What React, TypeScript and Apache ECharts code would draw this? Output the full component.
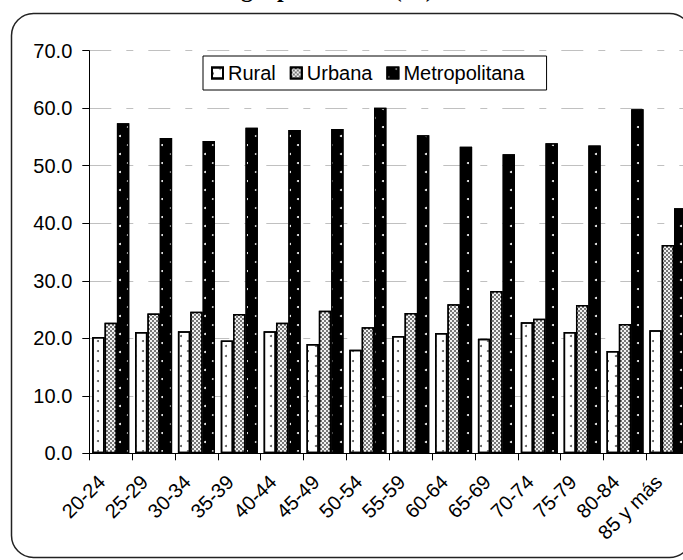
import React, { useEffect, useRef } from "react";
import * as echarts from "echarts";

const categories = [
  "20-24", "25-29", "30-34", "35-39", "40-44", "45-49", "50-54",
  "55-59", "60-64", "65-69", "70-74", "75-79", "80-84", "85 y más",
];
const seriesNames = ["Rural", "Urbana", "Metropolitana"];
const rural = [20.2, 21.1, 21.2, 19.6, 21.2, 19.0, 18.0, 20.4, 20.9, 19.9, 22.8, 21.1, 17.8, 21.4];
const urbana = [22.7, 24.3, 24.6, 24.2, 22.7, 24.8, 21.9, 24.4, 25.9, 28.2, 23.4, 25.8, 22.5, 36.2];
const metropolitana = [57.4, 54.8, 54.3, 56.6, 56.2, 56.4, 60.1, 55.3, 53.3, 52.0, 53.9, 53.5, 59.8, 42.6];
const yMin = 0;
const yMax = 70;
const yStep = 10;
const titleText = "grupo de edad (%)";

const SANS = '"Liberation Sans", Arial, sans-serif';
const SERIF = '"Liberation Serif", "Times New Roman", serif';

export default function App() {
  const ref = useRef<HTMLDivElement>(null);
  useEffect(() => {
    const chart = echarts.init(ref.current as HTMLDivElement, null, { renderer: "svg" });
    const border = { borderColor: "#000", borderWidth: 1.5 };
    chart.setOption({
      animation: false,
      backgroundColor: "#fff",
      textStyle: { fontFamily: SANS },
      graphic: [
        {
          type: "text",
          x: 241,
          y: 1,
          silent: true,
          style: {
            text: titleText,
            font: `bold 24px ${SERIF}`,
            fill: "#000",
            verticalAlign: "bottom",
          },
        },
        {
          type: "rect",
          silent: true,
          z: 100,
          shape: { x: 11.5, y: 13.5, width: 680, height: 544, r: 22 },
          style: { fill: "none", stroke: "#222", lineWidth: 1.5 },
        },
      ],
      legend: {
        left: 203,
        top: 56,
        itemWidth: 11,
        itemHeight: 11,
        itemGap: 14,
        padding: [7, 22, 7, 8],
        borderColor: "#000",
        borderWidth: 1,
        backgroundColor: "#fff",
        icon: "rect",
        textStyle: { fontSize: 20, color: "#000", fontFamily: SANS },
        data: seriesNames,
        z: 10,
      },
      grid: {
        left: 89.3,
        top: 50.7,
        width: 600,
        height: 402.6,
        containLabel: false,
        outerBoundsMode: "none",
      },
      xAxis: {
        type: "category",
        data: categories,
        axisLine: { lineStyle: { color: "#000", width: 1 } },
        axisTick: { show: true, length: 7, lineStyle: { color: "#000" } },
        axisLabel: {
          rotate: 45,
          interval: 0,
          margin: 16,
          padding: [0, 13, 0, 0],
          fontSize: 20,
          color: "#000",
          fontFamily: SANS,
        },
        splitLine: { show: false },
      },
      yAxis: {
        type: "value",
        min: yMin,
        max: yMax,
        interval: yStep,
        axisLine: { show: true, lineStyle: { color: "#000", width: 1 } },
        axisTick: { show: true, length: 7, lineStyle: { color: "#000" } },
        axisLabel: {
          margin: 17,
          fontSize: 20,
          color: "#000",
          fontFamily: SANS,
          formatter: (v: number) => v.toFixed(1),
        },
        splitLine: {
          show: true,
          lineStyle: { color: "#c0c0c0", width: 1, type: [22, 15, 7, 15] },
        },
      },
      series: [
        {
          name: seriesNames[0],
          type: "bar",
          data: rural,
          barGap: "0%",
          barCategoryGap: "13.5%",
          itemStyle: {
            color: "#fff",
            ...border,
            decal: {
              symbol: "circle",
              symbolSize: 1,
              color: "#555",
              backgroundColor: "#fff",
              dashArrayX: [[1.8, 12.2], [0, 7, 1.8, 5.2]],
              dashArrayY: [1.8, 2.2],
            },
          },
        },
        {
          name: seriesNames[1],
          type: "bar",
          data: urbana,
          barGap: "0%",
          barCategoryGap: "13.5%",
          itemStyle: {
            color: "#777",
            ...border,
            decal: {
              symbol: "rect",
              symbolSize: 0.9,
              color: "#fff",
              backgroundColor: "#333",
              dashArrayX: [[2, 2], [0, 2, 2, 0]],
              dashArrayY: [2, 0],
            },
          },
        },
        {
          name: seriesNames[2],
          type: "bar",
          data: metropolitana,
          barGap: "0%",
          barCategoryGap: "13.5%",
          itemStyle: {
            color: "#000",
            ...border,
            decal: {
              symbol: "circle",
              symbolSize: 1,
              color: "#fff",
              backgroundColor: "#000",
              dashArrayX: [[1.6, 14.4], [0, 8, 1.6, 6.4]],
              dashArrayY: [1.6, 6.1],
            },
          },
        },
      ],
    });
    return () => chart.dispose();
  }, []);
  return (
    <div
      ref={ref}
      style={{ position: "fixed", left: 0, top: 0, width: 683, height: 560, background: "#fff" }}
    />
  );
}
